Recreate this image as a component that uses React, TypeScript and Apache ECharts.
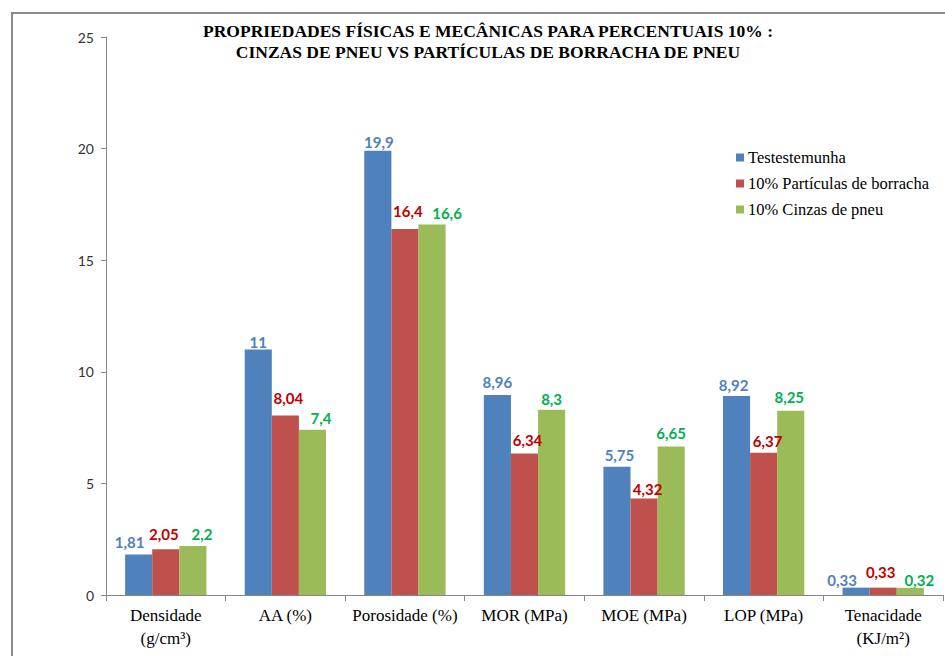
import React, { useEffect, useRef } from "react";
import * as echarts from "echarts";

const categories = ["Densidade\n(g/cm³)", "AA (%)", "Porosidade (%)", "MOR (MPa)", "MOE (MPa)", "LOP (MPa)", "Tenacidade\n(KJ/m²)"];
const seriesNames = ["Testestemunha", "10% Partículas de borracha", "10% Cinzas de pneu"];
const testemunha = [1.81, 11, 19.9, 8.96, 5.75, 8.92, 0.33];
const particulas = [2.05, 8.04, 16.4, 6.34, 4.32, 6.37, 0.33];
const cinzas = [2.2, 7.4, 16.6, 8.3, 6.65, 8.25, 0.32];
const yTicks = { min: 0, max: 25, interval: 5 };

const barColors = ["#4F81BD", "#C0504D", "#9BBB59"];
const labelColors = ["#4F81BD", "#C00000", "#00B050"];
// per-label nudges (as placed in the reference)
const labelOffsets: [number, number][][] = [
  [[-9, -1], [0, 4], [1, 3], [0, -2], [2.5, 0], [-3, 1], [-14, 4]],
  [[-2, -4], [3, -6], [3, -6], [3, -2], [3.5, 1.5], [4, 0], [-2.5, -4.5]],
  [[9, 0], [8.5, 0], [15, 0], [0, 1], [0, -2.5], [-1.5, -2], [9, 4]],
];

const fmt = (v: number) => String(v).replace(".", ",");

export default function App() {
  const ref = useRef<HTMLDivElement>(null);
  useEffect(() => {
    document.body.style.margin = "0";
    const chart = echarts.init(ref.current!, null, { renderer: "svg" });
    const datasets = [testemunha, particulas, cinzas];
    chart.setOption({
      animation: false,
      backgroundColor: "#ffffff",
      title: {
        text: "PROPRIEDADES FÍSICAS E MECÂNICAS PARA PERCENTUAIS 10% :\nCINZAS DE PNEU VS PARTÍCULAS DE BORRACHA DE PNEU",
        left: 483,
        top: 15,
        textAlign: "center",
        textStyle: {
          fontFamily: "Liberation Serif",
          fontWeight: "bold",
          fontSize: 17.5,
          lineHeight: 21,
          color: "#000",
        },
      },
      legend: {
        orient: "vertical",
        left: 731,
        top: 144,
        itemWidth: 8,
        itemHeight: 8,
        itemGap: 9,
        icon: "rect",
        textStyle: { fontFamily: "Liberation Serif", fontSize: 16.5, color: "#000", padding: [0, 0, 0, -1] },
        data: seriesNames,
      },
      grid: { left: 106, right: 2, top: 37, bottom: 61 },
      xAxis: {
        type: "category",
        data: categories,
        axisLine: { lineStyle: { color: "#868686", width: 1 } },
        axisTick: { show: true, length: 6, lineStyle: { color: "#868686" } },
        axisLabel: {
          interval: 0,
          margin: 9,
          fontFamily: "Liberation Serif",
          fontSize: 17,
          lineHeight: 23,
          color: "#000",
        },
      },
      yAxis: {
        type: "value",
        min: yTicks.min,
        max: yTicks.max,
        interval: yTicks.interval,
        splitLine: { show: false },
        axisLine: { show: true, lineStyle: { color: "#868686" } },
        axisTick: { show: true, length: 5, lineStyle: { color: "#868686" } },
        axisLabel: { fontFamily: "Lato", fontSize: 14, color: "#333", margin: 12 },
      },
      graphic: [
        {
          type: "rect",
          shape: { x: 12, y: 13, width: 1000, height: 800 },
          style: { fill: "none", stroke: "#8a8a8a", lineWidth: 2 },
          silent: true,
        },
      ],
      series: datasets.map((d, si) => ({
        name: seriesNames[si],
        type: "bar",
        barGap: "0%",
        barCategoryGap: "32%",
        itemStyle: { color: barColors[si] },
        data: d.map((v, i) => ({
          value: v,
          label: { offset: labelOffsets[si][i] },
        })),
        label: {
          show: true,
          position: "top",
          distance: 4,
          formatter: (p: any) => fmt(p.value),
          fontFamily: "Lato",
          fontWeight: "bold",
          fontSize: 15,
          color: labelColors[si],
        },
      })),
    });
    return () => chart.dispose();
  }, []);
  return <div ref={ref} style={{ position: "fixed", left: 0, top: 0, width: 945, height: 656 }} />;
}
